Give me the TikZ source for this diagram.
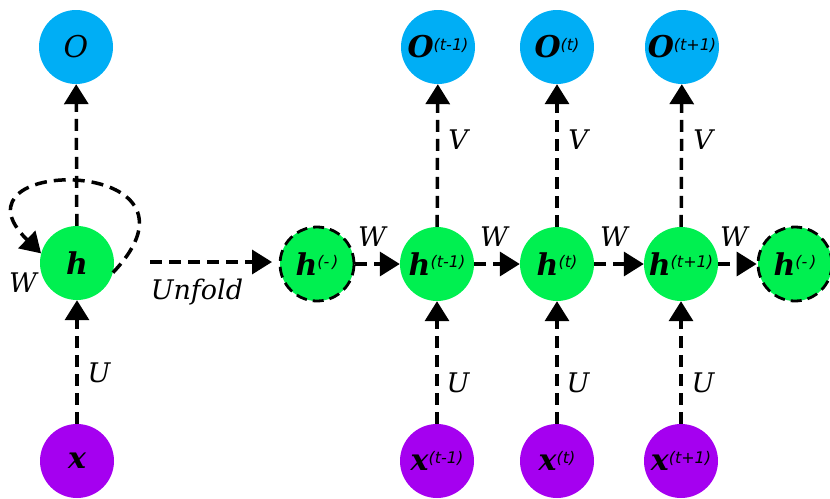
\documentclass[tikz,border=0pt]{standalone}
\usepackage{fontspec}
\setmainfont{DejaVu Serif}
\newfontfamily\supf{DejaVu Sans}
\usetikzlibrary{arrows.meta}
\definecolor{cblue}{RGB}{0,174,245}
\definecolor{cgreen}{RGB}{0,240,80}
\definecolor{cpurple}{RGB}{165,0,240}
\newcommand{\nm}[2]{{\itshape\bfseries #1}\raisebox{0.5ex}{\supf\itshape\fontsize{16}{16}\selectfont #2}}
\tikzset{
  circ/.style={circle, minimum size=74pt, inner sep=0pt, font=\fontsize{30}{30}\selectfont},
  onode/.style={circ, fill=cblue},
  hnode/.style={circ, fill=cgreen},
  xnode/.style={circ, fill=cpurple},
  ghost/.style={circ, fill=cgreen, draw=black, line width=2.8pt, dash pattern=on 11pt off 6pt},
  conn/.style={line width=3.5pt, dash pattern=on 12pt off 7pt, -{Triangle[length=20pt,width=24pt]}},
  lab/.style={font=\itshape\fontsize{27}{27}\selectfont, inner sep=0pt}
}
\begin{document}
\begin{tikzpicture}[x=1pt,y=-1pt]
\useasboundingbox (0,0) rectangle (830,498);
% left folded
\node[onode] (O) at (76,47) {\itshape O};
\node[hnode] (h) at (77,263) {\itshape\bfseries h};
\node[xnode] (x) at (77,461) {\itshape\bfseries x};
\draw[conn] (x) -- (h);
\draw[conn] (h) -- (O);
\draw[conn]
  (h.-15) .. controls (225,155) and (-60,155) .. (h.165);
\node[lab] (lw) at (23,283) {W};
\node[lab] (lu) at (99,373) {U};
% unfold arrow
\coordinate (u1) at (150,262);
\coordinate (u2) at (272,262);
\draw[conn] (u1) -- (u2);
\node[lab] (unf) at (197,292) {Unfold};
% unrolled
\node[ghost] (hm) at (317,264) {\nm{h}{(-\,)}};
\node[hnode] (h1) at (437,264) {\nm{h}{(t-1)}};
\node[hnode] (h2) at (557,264) {\nm{h}{(t)}};
\node[hnode] (h3) at (681,264) {\nm{h}{(t+1)}};
\node[ghost] (hp) at (795,264) {\nm{h}{(-\,)}};
\node[onode] (o1) at (438,47) {\nm{O}{(t-1)}};
\node[onode] (o2) at (557,47) {\nm{O}{(t)}};
\node[onode] (o3) at (682,47) {\nm{O}{(t+1)}};
\node[xnode] (x1) at (437,461) {\nm{x}{(t-1)}};
\node[xnode] (x2) at (557,461) {\nm{x}{(t)}};
\node[xnode] (x3) at (681,461) {\nm{x}{(t+1)}};
\foreach \a/\b in {hm/h1,h1/h2,h2/h3,h3/hp} \draw[conn] (\a) -- (\b);
\foreach \i in {1,2,3} {
  \draw[conn] (x\i) -- (h\i);
  \draw[conn] (h\i) -- (o\i);
}
\node[lab] (w1) at (372,237) {W};
\node[lab] (w2) at (494,237) {W};
\node[lab] (w3) at (614,237) {W};
\node[lab] (w4) at (734,237) {W};
\node[lab] (v1) at (458,140) {V};
\node[lab] (v2) at (578,140) {V};
\node[lab] (v3) at (703,140) {V};
\node[lab] (uu1) at (458,383) {U};
\node[lab] (uu2) at (578,383) {U};
\node[lab] (uu3) at (703,383) {U};
\end{tikzpicture}
\end{document}
